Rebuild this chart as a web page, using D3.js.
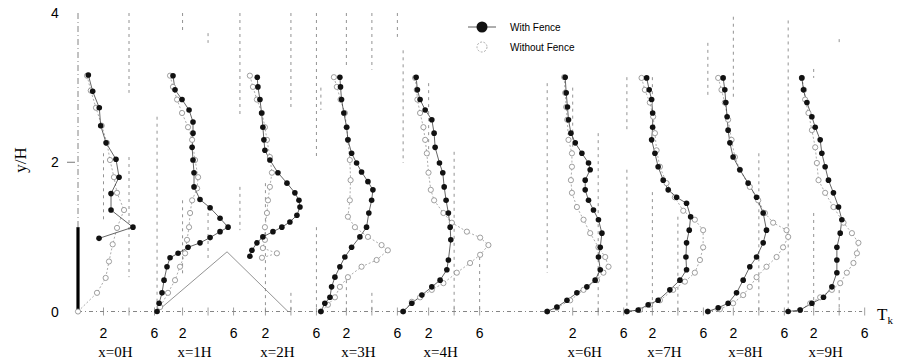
<!DOCTYPE html>
<html>
<head>
<meta charset="utf-8">
<script src="https://cdn.jsdelivr.net/npm/d3@7"></script>
<style>
body { margin: 0; background: #fff; }
svg { display: block; }
</style>
</head>
<body>
<div id="chart"></div>
<script>
// station names and where each profile sits along the page (in Tk units)
var stations = ["x=0H", "x=1H", "x=2H", "x=3H", "x=4H", "x=6H", "x=7H", "x=8H", "x=9H"];
var stationShift = [0, 6.2, 12.7, 19.05, 25.5, 36.8, 43.05, 49.4, 55.7];
var tkTicks = [2, 6];
var yTicks = [0, 2, 4];

// profiles [Tk, y/H]
var withFence = [
  [[0.81,3.17],[1.15,2.95],[1.67,2.73],[1.78,2.49],[2.2,2.26],[2.98,2.04],[3.22,1.80],[2.59,1.58],[2.59,1.36],[4.31,1.13],[1.65,0.98]],
  [[1.25,3.16],[1.41,2.97],[1.96,2.84],[2.51,2.70],[2.82,2.54],[2.82,2.39],[2.75,2.20],[2.82,2.03],[2.90,1.86],[2.90,1.67],[3.37,1.50],[4.16,1.39],[4.94,1.25],[5.57,1.13],[4.94,1.07],[4.16,0.99],[3.37,0.92],[2.43,0.86],[1.65,0.78],[1.02,0.72],[0.78,0.60],[0.55,0.42],[0.39,0.25],[0.16,0.11],[0,0]],
  [[1.36,3.14],[1.41,3.01],[1.57,2.84],[1.70,2.66],[1.80,2.47],[1.88,2.30],[1.96,2.16],[2.35,2.03],[2.98,1.86],[3.69,1.72],[4.31,1.59],[4.63,1.49],[4.71,1.40],[4.47,1.29],[3.92,1.20],[3.29,1.13],[2.59,1.07],[1.80,1.00],[1.33,0.92],[0.94,0.82],[0.78,0.74]],
  [[1.49,3.14],[1.54,3.01],[1.62,2.84],[1.80,2.66],[2.02,2.47],[2.12,2.30],[2.41,2.12],[2.80,1.99],[3.19,1.87],[3.69,1.74],[4.08,1.63],[3.98,1.49],[3.76,1.32],[3.58,1.13],[3.06,1.00],[2.41,0.86],[1.88,0.73],[1.49,0.60],[1.10,0.46],[0.84,0.33],[0.71,0.19],[0.31,0.11],[0,0]],
  [[1.02,3.14],[1.12,2.97],[1.33,2.84],[1.73,2.70],[2.25,2.57],[2.43,2.39],[2.51,2.20],[2.85,1.99],[3.11,1.86],[3.22,1.67],[3.37,1.49],[3.55,1.32],[3.69,1.13],[3.74,0.96],[3.55,0.69],[3.43,0.56],[2.90,0.42],[2.25,0.33],[1.47,0.22],[0.68,0.11],[0,0]],
  [[1.41,3.14],[1.49,2.93],[1.59,2.74],[1.67,2.57],[1.86,2.39],[2.20,2.26],[2.72,2.12],[3.24,1.99],[3.37,1.90],[2.98,1.76],[2.98,1.63],[3.24,1.49],[3.63,1.36],[4.02,1.23],[4.29,1.05],[4.16,0.86],[4.02,0.73],[4.16,0.56],[3.76,0.42],[3.11,0.33],[2.33,0.25],[1.55,0.15],[0.76,0.06],[0,0]],
  [[1.55,3.13],[1.75,2.97],[1.94,2.84],[2.02,2.66],[2.02,2.47],[1.94,2.30],[2.20,2.12],[2.45,1.94],[2.85,1.76],[3.24,1.63],[3.90,1.53],[4.68,1.45],[5.00,1.27],[4.89,1.09],[4.68,0.92],[4.63,0.73],[4.68,0.56],[4.16,0.42],[3.37,0.29],[2.45,0.15],[1.67,0.09],[0.89,0.02],[0,0]],
  [[1.20,3.13],[1.33,2.97],[1.41,2.80],[1.51,2.61],[1.59,2.43],[1.73,2.26],[1.98,2.07],[2.51,1.90],[3.16,1.72],[3.82,1.53],[4.34,1.32],[4.60,1.09],[4.34,0.92],[3.82,0.73],[3.29,0.60],[2.77,0.42],[2.25,0.25],[1.59,0.11],[0.81,0.05],[0,0]],
  [[1.07,3.13],[1.20,2.97],[1.47,2.80],[1.86,2.61],[2.12,2.47],[2.51,2.30],[2.64,2.12],[2.90,1.94],[3.16,1.76],[3.55,1.59],[3.95,1.40],[4.21,1.23],[4.08,1.05],[3.82,0.86],[3.82,0.69],[3.82,0.52],[3.43,0.33],[2.77,0.19],[1.86,0.11],[0.94,0.02],[0,0]]
];

var withoutFence = [
  [[0.71,3.16],[1.0,2.96],[1.41,2.73],[1.86,2.49],[2.27,2.26],[2.51,2.03],[2.82,1.80],[3.06,1.59],[3.61,1.36],[3.06,1.12],[2.72,0.90],[2.43,0.67],[2.17,0.45],[1.49,0.25],[0,0]],
  [[1.02,3.16],[1.25,3.01],[1.57,2.84],[1.96,2.66],[2.43,2.47],[2.75,2.30],[2.98,2.03],[3.22,1.80],[3.14,1.65],[2.75,1.49],[2.59,1.32],[2.51,1.13],[2.35,0.96],[2.20,0.78],[1.80,0.60],[1.41,0.42],[0.86,0.25],[0.24,0.06]],
  [[0.78,3.16],[1.02,3.01],[1.33,2.84],[1.73,2.66],[1.96,2.47],[2.12,2.30],[2.35,2.07],[2.51,1.86],[2.35,1.67],[2.20,1.49],[2.12,1.32],[1.96,1.13],[1.96,0.96],[1.80,0.85],[2.90,0.78],[1.73,0.72]],
  [[1.02,3.14],[1.25,3.01],[1.54,2.84],[1.88,2.66],[2.02,2.47],[2.12,2.30],[2.27,2.03],[2.33,1.76],[2.27,1.49],[2.12,1.27],[2.67,1.13],[3.69,1.00],[4.76,0.89],[5.25,0.82],[4.37,0.69],[3.19,0.60],[2.12,0.46],[1.49,0.33],[1.10,0.19],[0.55,0.09],[0,0]],
  [[0.94,3.13],[1.07,2.97],[1.12,2.84],[1.33,2.66],[1.59,2.47],[1.73,2.30],[1.86,2.12],[1.99,1.86],[2.17,1.63],[2.43,1.49],[3.16,1.32],[3.82,1.19],[5.00,1.07],[6.04,0.99],[6.69,0.89],[6.04,0.76],[5.25,0.65],[4.21,0.52],[3.16,0.38],[2.25,0.29],[1.33,0.19],[0.68,0.13],[0,0]],
  [[1.33,3.14],[1.41,2.93],[1.49,2.74],[1.57,2.57],[1.67,2.30],[1.94,2.12],[1.94,1.94],[1.86,1.76],[1.94,1.59],[2.33,1.40],[2.85,1.23],[3.37,1.05],[4.02,0.86],[4.55,0.73],[4.81,0.60],[4.41,0.52],[3.90,0.42],[2.85,0.29],[1.80,0.15],[0.76,0.05],[0,0]],
  [[1.15,3.13],[1.41,2.97],[1.80,2.80],[2.06,2.61],[2.20,2.39],[2.33,2.16],[2.59,1.94],[3.11,1.72],[3.76,1.53],[4.42,1.35],[5.33,1.23],[5.98,1.09],[5.98,0.86],[5.73,0.69],[5.33,0.52],[4.55,0.40],[3.63,0.29],[2.59,0.15],[1.80,0.09],[1.02,0.02],[0,0]],
  [[0.81,3.13],[1.07,2.97],[1.33,2.80],[1.59,2.57],[1.86,2.30],[2.12,2.07],[2.51,1.90],[3.29,1.67],[3.95,1.49],[4.47,1.32],[5.12,1.19],[6.17,1.09],[6.30,1.00],[5.90,0.86],[5.39,0.73],[4.60,0.60],[3.82,0.46],[3.29,0.33],[2.77,0.22],[1.98,0.11],[0.94,0.03],[0,0]],
  [[1.07,3.13],[1.25,2.97],[1.33,2.84],[1.59,2.66],[1.86,2.43],[2.12,2.20],[2.25,1.99],[2.38,1.76],[2.90,1.59],[3.55,1.40],[4.34,1.19],[5.00,1.05],[5.51,0.92],[5.39,0.78],[5.12,0.65],[4.60,0.52],[4.08,0.38],[3.43,0.29],[2.51,0.19],[1.73,0.11],[0.94,0.02]]
];

// broken vertical grid pieces: [station, Tk, y from, y to]
var gridSegs = [
  [0,4,2.93,4],[0,4,0.46,2.07],[0,2,1.19,2.12],
  [1,2,3.75,4],[1,4,3.6,3.73],[1,0,0,2.61],[1,2,0.46,1.49],[1,4,0.69,1.32],
  [2,0,2.6,4],[2,0,1.09,1.67],[2,2,0,1.72],[2,4,2.7,4],[2,4,0,0.25],[2,6,2.03,4],[2,6,0,1.13],
  [3,0,2.7,3.0],[3,2,3.28,4],[3,2,0,0.42],[3,4,3.24,4],[3,4,0,0.25],[3,6,3.68,4],
  [4,0,1.99,3.5],[4,2,2.07,3.06],[4,4,0,2.14],[4,6,0,0.73],
  [5,0,0.52,3.06],[5,2,2.07,3.0],[5,4,0,2.39],
  [6,0,0,1.9],[6,0,2.39,3.14],[6,2,2.8,3.14],[6,2,0,1.6],[6,4,0,1.27],
  [7,0,2.88,3.6],[7,2,2.84,3.95],[7,4,0,2.12],
  [8,0,0,3.9],[8,2,0,1.32],[8,2,3.13,3.25],[8,4,0,0.38],[8,4,3.6,3.65]
];

// hill outline, in page Tk units
var hill = [[6.2,0],[11.69,0.8],[16.47,0]];
var fenceHeight = 1.13;

var width = 897, height = 361;

var x = d3.scaleLinear().domain([0, 62]).range([78, 78 + 62 * 12.75]);
var y = d3.scaleLinear().domain([0, 4]).range([311.5, 13]);

var svg = d3.select('#chart')
    .append('svg')
    .attr('width', width)
    .attr('height', height);

// grid
var grid = svg.append('g').attr('class', 'grid');
grid.selectAll('line')
    .data(gridSegs)
    .enter()
    .append('line')
    .attr('x1', function(d){ return x(stationShift[d[0]] + d[1]); })
    .attr('x2', function(d){ return x(stationShift[d[0]] + d[1]); })
    .attr('y1', function(d){ return y(d[3]); })
    .attr('y2', function(d){ return y(d[2]); })
    .attr('stroke', '#777')
    .attr('stroke-width', 0.8)
    .attr('stroke-dasharray', '3,4');

// y axis line (dash dot)
grid.append('line')
    .attr('x1', x(0)).attr('x2', x(0))
    .attr('y1', y(4)).attr('y2', y(0))
    .attr('stroke', '#666')
    .attr('stroke-width', 0.8)
    .attr('stroke-dasharray', '6,3,1,3');

// baseline
grid.append('line')
    .attr('x1', x(0)).attr('x2', x(61.5))
    .attr('y1', y(0)).attr('y2', y(0))
    .attr('stroke', '#666')
    .attr('stroke-width', 0.8)
    .attr('stroke-dasharray', '4,3,1,3');

// little ticks on baseline
stationShift.forEach(function(s){
    [2, 4, 6].forEach(function(t){
        grid.append('line')
            .attr('x1', x(s + t)).attr('x2', x(s + t))
            .attr('y1', y(0) - 4).attr('y2', y(0) + 4)
            .attr('stroke', '#888')
            .attr('stroke-width', 0.8);
    });
});

// y ticks
svg.append('g')
    .selectAll('text')
    .data(yTicks)
    .enter()
    .append('text')
    .attr('x', 55)
    .attr('y', function(d){ return y(d) + 5; })
    .attr('text-anchor', 'middle')
    .style('font-family', 'Liberation Sans, Arial, sans-serif')
    .style('font-size', '14px')
    .text(function(d){ return d; });

svg.append('line')
    .attr('x1', 67).attr('x2', 75)
    .attr('y1', y(2)).attr('y2', y(2))
    .attr('stroke', '#555').attr('stroke-width', 0.8);

svg.append('text')
    .attr('transform', 'translate(26,160) rotate(-90)')
    .attr('text-anchor', 'middle')
    .style('font-family', 'Liberation Serif, Times New Roman, serif')
    .style('font-size', '17px')
    .text('y/H');

// hill
svg.append('path')
    .attr('d', d3.line().x(function(d){ return x(d[0]); }).y(function(d){ return y(d[1]); })(hill))
    .attr('fill', 'none')
    .attr('stroke', '#777')
    .attr('stroke-width', 0.8);

// fence
svg.append('line')
    .attr('x1', x(0)).attr('x2', x(0))
    .attr('y1', y(0)).attr('y2', y(fenceHeight))
    .attr('stroke', '#000')
    .attr('stroke-width', 3.2);

// profiles
for (var i = 0; i < stations.length; i++) {
    var s = stationShift[i];
    var line = d3.line()
        .x(function(d){ return x(s + d[0]); })
        .y(function(d){ return y(d[1]); });

    var g = svg.append('g').attr('class', 'station');

    g.append('path')
        .attr('d', line(withoutFence[i]))
        .attr('fill', 'none')
        .attr('stroke', '#888')
        .attr('stroke-width', 0.7)
        .attr('stroke-dasharray', '2,2');

    g.append('path')
        .attr('d', line(withFence[i]))
        .attr('fill', 'none')
        .attr('stroke', '#222')
        .attr('stroke-width', 0.7);

    g.selectAll('circle.open')
        .data(withoutFence[i])
        .enter()
        .append('circle')
        .attr('class', 'open')
        .attr('cx', function(d){ return x(s + d[0]); })
        .attr('cy', function(d){ return y(d[1]); })
        .attr('r', 2.6)
        .attr('fill', '#fff')
        .attr('stroke', '#888')
        .attr('stroke-width', 0.8);

    g.selectAll('circle.filled')
        .data(withFence[i])
        .enter()
        .append('circle')
        .attr('class', 'filled')
        .attr('cx', function(d){ return x(s + d[0]); })
        .attr('cy', function(d){ return y(d[1]); })
        .attr('r', 2.8)
        .attr('fill', '#111');

    // Tk tick labels
    g.selectAll('text.tk')
        .data(tkTicks)
        .enter()
        .append('text')
        .attr('class', 'tk')
        .attr('x', function(d){ return x(s + d); })
        .attr('y', 338)
        .attr('text-anchor', 'middle')
        .style('font-family', 'Liberation Sans, Arial, sans-serif')
        .style('font-size', '14px')
        .text(function(d){ return d; });

    g.append('text')
        .attr('x', x(s + 2) + 12)
        .attr('y', 357)
        .attr('text-anchor', 'middle')
        .style('font-family', 'Liberation Serif, Times New Roman, serif')
        .style('font-size', '15px')
        .text(stations[i]);
}

// T_k label
var tk = svg.append('text')
    .attr('x', 877)
    .attr('y', 320)
    .style('font-family', 'Liberation Serif, Times New Roman, serif')
    .style('font-size', '17px');
tk.append('tspan').text('T');
tk.append('tspan').attr('dy', 4).style('font-size', '11px').text('k');

// legend
var legend = svg.append('g').attr('class', 'legend');
legend.append('line')
    .attr('x1', 468).attr('x2', 496)
    .attr('y1', 27).attr('y2', 27)
    .attr('stroke', '#333').attr('stroke-width', 0.8);
legend.append('circle')
    .attr('cx', 482).attr('cy', 27).attr('r', 5.5)
    .attr('fill', '#111');
legend.append('circle')
    .attr('cx', 482).attr('cy', 47).attr('r', 5)
    .attr('fill', '#fff')
    .attr('stroke', '#999')
    .attr('stroke-width', 0.8)
    .attr('stroke-dasharray', '2,1.5');
legend.append('text')
    .attr('x', 510).attr('y', 31)
    .style('font-family', 'Liberation Sans, Arial, sans-serif')
    .style('font-size', '10px')
    .text('With Fence');
legend.append('text')
    .attr('x', 510).attr('y', 51)
    .style('font-family', 'Liberation Sans, Arial, sans-serif')
    .style('font-size', '10px')
    .text('Without Fence');
</script>
</body>
</html>
